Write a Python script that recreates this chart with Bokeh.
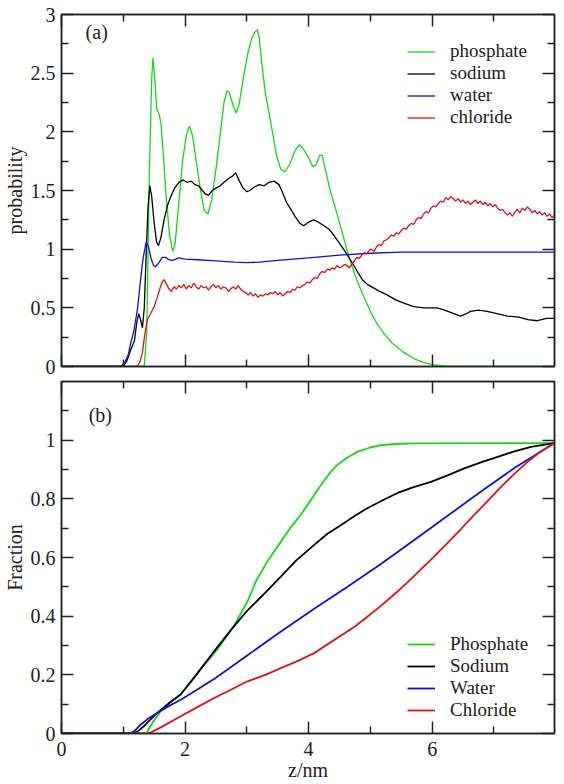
from bokeh.plotting import figure
from bokeh.models import (Range1d, LinearAxis, FixedTicker, CustomJSTickFormatter,
                          Legend, LegendItem, Label)
from bokeh.layouts import column
from bokeh.embed import file_html
from bokeh.resources import INLINE

# ---------------- data: panel (a) probability ----------------
z_phos = [0, 1.34, 1.38, 1.42, 1.46, 1.48, 1.51, 1.54, 1.58, 1.61, 1.65, 1.70, 1.75, 1.80, 1.84,
          1.90, 1.96, 2.02, 2.07, 2.12, 2.18, 2.25, 2.31, 2.37, 2.43, 2.50, 2.57, 2.63, 2.68, 2.72,
          2.78, 2.83, 2.88, 2.95, 3.02, 3.08, 3.13, 3.17, 3.20, 3.25, 3.30, 3.36, 3.42, 3.48, 3.55,
          3.62, 3.70, 3.78, 3.85, 3.92, 4.00, 4.07, 4.12, 4.18, 4.22, 4.27, 4.35, 4.45, 4.55, 4.65,
          4.75, 4.87, 5.00, 5.10, 5.22, 5.35, 5.54, 5.70, 5.85, 6.00, 6.20, 6.40, 7.98]
p_phos = [0, 0, 0.3, 1.6, 2.45, 2.63, 2.45, 2.2, 2.15, 2.07, 1.8, 1.4, 1.12, 0.98, 1.05,
          1.4, 1.75, 1.97, 2.05, 1.97, 1.75, 1.5, 1.33, 1.30, 1.42, 1.68, 1.98, 2.25, 2.35, 2.33,
          2.22, 2.16, 2.25, 2.48, 2.68, 2.80, 2.85, 2.87, 2.80, 2.55, 2.33, 2.16, 1.98, 1.80, 1.68,
          1.66, 1.73, 1.84, 1.89, 1.85, 1.78, 1.70, 1.72, 1.80, 1.80, 1.68, 1.50, 1.32, 1.13, 0.94,
          0.78, 0.62, 0.47, 0.37, 0.28, 0.20, 0.12, 0.07, 0.035, 0.015, 0.005, 0, 0]

z_sod = [0, 1.00, 1.06, 1.12, 1.18, 1.22, 1.25, 1.28, 1.31, 1.34, 1.37, 1.40, 1.43, 1.46, 1.50,
         1.54, 1.57, 1.61, 1.66, 1.72, 1.77, 1.83, 1.90, 1.97, 2.03, 2.10, 2.16, 2.22, 2.28, 2.33,
         2.38, 2.44, 2.50, 2.57, 2.63, 2.70, 2.76, 2.82, 2.88, 2.94, 3.00, 3.05, 3.12, 3.20, 3.28,
         3.36, 3.44, 3.52, 3.58, 3.64, 3.70, 3.78, 3.86, 3.92, 4.00, 4.08, 4.16, 4.25, 4.33, 4.42,
         4.50, 4.58, 4.65, 4.71, 4.80, 4.87, 4.95, 5.05, 5.15, 5.27, 5.40, 5.54, 5.70, 5.87, 6.08,
         6.20, 6.35, 6.46, 6.55, 6.62, 6.75, 6.89, 7.05, 7.22, 7.40, 7.55, 7.70, 7.85, 7.98]
p_sod = [0, 0, 0.05, 0.14, 0.22, 0.38, 0.45, 0.40, 0.33, 0.50, 0.95, 1.35, 1.54, 1.45, 1.22,
         1.06, 1.03, 1.10, 1.25, 1.38, 1.45, 1.52, 1.57, 1.59, 1.57, 1.58, 1.55, 1.54, 1.50, 1.47,
         1.46, 1.50, 1.52, 1.54, 1.57, 1.60, 1.62, 1.65, 1.58, 1.52, 1.49, 1.50, 1.53, 1.55, 1.54,
         1.57, 1.58, 1.55, 1.48, 1.40, 1.35, 1.28, 1.22, 1.20, 1.23, 1.25, 1.23, 1.20, 1.17, 1.11,
         1.05, 0.99, 0.93, 0.88, 0.80, 0.74, 0.70, 0.67, 0.64, 0.61, 0.57, 0.54, 0.51, 0.50, 0.50,
         0.48, 0.45, 0.43, 0.45, 0.47, 0.48, 0.47, 0.45, 0.43, 0.42, 0.40, 0.39, 0.41, 0.41]

z_wat = [0, 0.96, 1.02, 1.08, 1.12, 1.17, 1.23, 1.28, 1.32, 1.37, 1.41, 1.45, 1.49, 1.52, 1.57,
         1.63, 1.68, 1.74, 1.80, 1.90, 2.00, 2.20, 2.50, 2.80, 3.00, 3.20, 3.50, 4.00, 4.50, 5.00,
         5.50, 6.00, 6.50, 7.00, 7.98]
p_wat = [0, 0, 0.03, 0.10, 0.20, 0.30, 0.49, 0.74, 0.92, 1.06, 1.02, 0.92, 0.86, 0.85, 0.88,
         0.93, 0.93, 0.91, 0.905, 0.925, 0.915, 0.91, 0.90, 0.89, 0.885, 0.89, 0.905, 0.925, 0.95,
         0.965, 0.975, 0.975, 0.975, 0.975, 0.975]

z_chl = [0, 1.22, 1.27, 1.31, 1.35, 1.39, 1.44, 1.50, 1.55, 1.59, 1.63, 1.66, 1.70, 1.74, 1.78,
         1.82, 1.86, 1.90, 1.94, 1.98, 2.02, 2.06, 2.10, 2.14, 2.18, 2.22, 2.26, 2.30, 2.34, 2.38,
         2.42, 2.46, 2.50, 2.54, 2.58, 2.62, 2.66, 2.70, 2.74, 2.78, 2.82, 2.86, 2.90, 2.94, 2.98,
         3.02, 3.06, 3.10, 3.14, 3.18, 3.22, 3.26, 3.30, 3.34, 3.38, 3.42, 3.46, 3.50, 3.54, 3.58,
         3.62, 3.66, 3.70, 3.74, 3.78, 3.82, 3.86, 3.90, 3.94, 3.98, 4.02, 4.06, 4.10, 4.14, 4.18,
         4.22, 4.26, 4.30, 4.34, 4.38, 4.42, 4.46, 4.50, 4.54, 4.58, 4.62, 4.66, 4.70, 4.74, 4.78,
         4.82, 4.86, 4.90, 4.94, 4.98, 5.02, 5.06, 5.10, 5.14, 5.18, 5.22, 5.26, 5.30, 5.34, 5.38,
         5.42, 5.46, 5.50, 5.54, 5.58, 5.62, 5.66, 5.70, 5.74, 5.78, 5.82, 5.86, 5.90, 5.94, 5.98,
         6.02, 6.06, 6.10, 6.14, 6.18, 6.22, 6.26, 6.30, 6.34, 6.38, 6.42, 6.46, 6.50, 6.54, 6.58,
         6.62, 6.66, 6.70, 6.74, 6.78, 6.82, 6.86, 6.90, 6.94, 6.98, 7.02, 7.06, 7.10, 7.14, 7.18,
         7.22, 7.26, 7.30, 7.34, 7.38, 7.42, 7.46, 7.50, 7.54, 7.58, 7.62, 7.66, 7.70, 7.74, 7.78,
         7.82, 7.86, 7.90, 7.94, 7.98]
p_chl = [0, 0, 0.04, 0.12, 0.28, 0.40, 0.45, 0.51, 0.59, 0.66, 0.72, 0.74, 0.70, 0.66, 0.64,
         0.68, 0.66, 0.69, 0.67, 0.70, 0.66, 0.69, 0.67, 0.71, 0.68, 0.66, 0.69, 0.67, 0.68, 0.65,
         0.68, 0.70, 0.67, 0.69, 0.66, 0.68, 0.67, 0.64, 0.66, 0.68, 0.66, 0.69, 0.66, 0.64, 0.63,
         0.61, 0.63, 0.60, 0.62, 0.59, 0.61, 0.60, 0.62, 0.61, 0.63, 0.62, 0.64, 0.61, 0.63, 0.60,
         0.62, 0.64, 0.63, 0.66, 0.65, 0.68, 0.67, 0.69, 0.70, 0.72, 0.71, 0.74, 0.76, 0.75, 0.79,
         0.81, 0.80, 0.83, 0.82, 0.84, 0.83, 0.86, 0.84, 0.85, 0.87, 0.86, 0.84, 0.87, 0.90, 0.93,
         0.92, 0.95, 0.97, 0.96, 0.99, 1.00, 0.98, 1.02, 1.04, 1.03, 1.07, 1.08, 1.10, 1.12, 1.11,
         1.14, 1.13, 1.16, 1.18, 1.17, 1.20, 1.22, 1.21, 1.25, 1.27, 1.26, 1.30, 1.32, 1.31, 1.35,
         1.37, 1.36, 1.39, 1.41, 1.40, 1.44, 1.42, 1.45, 1.43, 1.41, 1.43, 1.40, 1.42, 1.39, 1.41,
         1.38, 1.40, 1.42, 1.39, 1.41, 1.38, 1.40, 1.37, 1.39, 1.36, 1.38, 1.35, 1.33, 1.34, 1.31,
         1.29, 1.31, 1.28, 1.32, 1.34, 1.31, 1.35, 1.33, 1.36, 1.34, 1.31, 1.33, 1.30, 1.32, 1.29,
         1.31, 1.28, 1.30, 1.27, 1.29]

# ---------------- data: panel (b) cumulative fraction ----------------
zf_phos = [0, 1.38, 1.41, 1.50, 1.60, 1.70, 1.77, 1.85, 1.93, 2.05, 2.25, 2.40, 2.57, 2.80, 3.01,
           3.15, 3.33, 3.55, 3.70, 3.87, 4.05, 4.20, 4.35, 4.46, 4.62, 4.79, 5.00, 5.17, 5.40, 5.71,
           7.98]
f_phos = [0, 0, 0.015, 0.045, 0.075, 0.095, 0.11, 0.12, 0.135, 0.165, 0.22, 0.255, 0.30, 0.37, 0.45,
          0.52, 0.586, 0.654, 0.70, 0.745, 0.80, 0.847, 0.89, 0.915, 0.94, 0.96, 0.975, 0.983, 0.987,
          0.989, 0.99]

zf_sod = [0, 1.17, 1.25, 1.36, 1.45, 1.55, 1.75, 1.93, 2.20, 2.47, 2.75, 3.01, 3.30, 3.55, 3.80,
          4.09, 4.30, 4.52, 4.75, 4.95, 5.20, 5.44, 5.70, 5.98, 6.25, 6.52, 6.80, 7.06, 7.33, 7.60,
          7.98]
f_sod = [0, 0, 0.01, 0.03, 0.05, 0.07, 0.105, 0.133, 0.205, 0.28, 0.355, 0.42, 0.48, 0.535, 0.59,
         0.643, 0.68, 0.71, 0.742, 0.768, 0.795, 0.82, 0.84, 0.858, 0.88, 0.904, 0.925, 0.943, 0.962,
         0.977, 0.99]

zf_wat = [0, 1.12, 1.20, 1.28, 1.40, 1.55, 1.75, 1.93, 2.20, 2.50, 3.00, 3.50, 4.09, 4.63, 5.17,
          5.71, 6.25, 6.79, 7.33, 7.98]
f_wat = [0, 0, 0.012, 0.03, 0.05, 0.07, 0.095, 0.115, 0.15, 0.19, 0.265, 0.34, 0.425, 0.50, 0.578,
         0.66, 0.742, 0.825, 0.905, 0.99]

zf_chl = [0, 1.41, 1.60, 1.93, 2.20, 2.47, 2.75, 3.01, 3.30, 3.55, 3.80, 4.09, 4.30, 4.52, 4.75,
          4.95, 5.17, 5.38, 5.60, 5.81, 6.03, 6.25, 6.47, 6.68, 6.90, 7.11, 7.33, 7.54, 7.75, 7.98]
f_chl = [0, 0, 0.02, 0.059, 0.09, 0.121, 0.15, 0.178, 0.20, 0.223, 0.245, 0.274, 0.303, 0.333, 0.365,
         0.398, 0.435, 0.473, 0.515, 0.558, 0.603, 0.65, 0.698, 0.745, 0.793, 0.84, 0.885, 0.925,
         0.96, 0.99]

names_a = ["phosphate", "sodium", "water", "chloride"]
names_b = ["Phosphate", "Sodium", "Water", "Chloride"]
colors = ["#16d816", "#000000", "#1010d8", "#dc1414"]

x_major = [0, 2, 4, 6]
x_minor = [1, 3, 5, 7]
x_labels = ["0", "2", "4", "6"]
ya_major = [0, 0.5, 1, 1.5, 2, 2.5, 3]
ya_minor = [0.25, 0.75, 1.25, 1.75, 2.25, 2.75]
ya_labels = ["0", "0.5", "1", "1.5", "2", "2.5", "3"]
yb_major = [0, 0.2, 0.4, 0.6, 0.8, 1.0]
yb_minor = [0.1, 0.3, 0.5, 0.7, 0.9, 1.1]
yb_labels = ["0", "0.2", "0.4", "0.6", "0.8", "1"]

FONT = "Liberation Serif"
FS = "20px"
blank = CustomJSTickFormatter(code="return ''")


def style_axis(ax, show_labels):
    ax.axis_line_width = 1.5
    ax.axis_line_color = "#222222"
    ax.major_tick_line_color = "#222222"
    ax.minor_tick_line_color = "#222222"
    ax.major_tick_line_width = 1.5
    ax.minor_tick_line_width = 1.5
    ax.major_tick_in = 12
    ax.major_tick_out = 0
    ax.minor_tick_in = 7
    ax.minor_tick_out = 0
    ax.major_label_text_font = FONT
    ax.major_label_text_font_size = FS
    ax.major_label_text_color = "#222222"
    ax.axis_label_text_font = FONT
    ax.axis_label_text_font_size = FS
    ax.axis_label_text_font_style = "normal"
    ax.axis_label_text_color = "#222222"
    if not show_labels:
        ax.formatter = blank
        ax.major_label_standoff = 0


def make_panel(yr, ymaj, ymin, ylabs, ylabel, show_x, min_top, min_bottom, fh):
    p = figure(frame_width=493, frame_height=fh, x_range=Range1d(0, 7.98), y_range=yr,
               output_backend="svg", toolbar_location=None,
               min_border_left=53, min_border_right=4, min_border_top=min_top,
               min_border_bottom=min_bottom, x_axis_location=None, y_axis_location=None)
    p.grid.visible = False
    p.outline_line_color = "#222222"
    p.outline_line_width = 1.5
    xt = FixedTicker(ticks=x_major, minor_ticks=x_minor)
    yt = FixedTicker(ticks=ymaj, minor_ticks=ymin)
    xb = LinearAxis(ticker=xt)
    style_axis(xb, show_x)
    if show_x:
        xb.major_label_overrides = dict(zip(x_major, x_labels))
        xb.axis_label = "z/nm"
        xb.major_label_standoff = 8
        xb.axis_label_standoff = 0
    p.add_layout(xb, "below")
    xa = LinearAxis(ticker=xt)
    style_axis(xa, False)
    p.add_layout(xa, "above")
    yl = LinearAxis(ticker=yt, axis_label=ylabel)
    style_axis(yl, True)
    yl.major_label_overrides = dict(zip(ymaj, ylabs))
    yl.major_label_standoff = 6
    yl.axis_label_standoff = 2
    p.add_layout(yl, "left")
    yr_ax = LinearAxis(ticker=yt)
    style_axis(yr_ax, False)
    p.add_layout(yr_ax, "right")
    return p


FH = 352
p1 = make_panel(Range1d(0, 3), ya_major, ya_minor, ya_labels, "probability", False, 14, 12, FH)
p2 = make_panel(Range1d(0, 1.2), yb_major, yb_minor, yb_labels, "Fraction", True, 3, 0, FH)

items_a = []
for (zz, yy), c, n in zip([(z_phos, p_phos), (z_sod, p_sod), (z_wat, p_wat), (z_chl, p_chl)], colors, names_a):
    r = p1.line(zz, yy, line_color=c, line_width=1.3)
    items_a.append(LegendItem(label=n, renderers=[r]))

items_b = []
for (zz, yy), c, n in zip([(zf_phos, f_phos), (zf_sod, f_sod), (zf_wat, f_wat), (zf_chl, f_chl)], colors, names_b):
    r = p2.line(zz, yy, line_color=c, line_width=1.8)
    items_b.append(LegendItem(label=n, renderers=[r]))


def make_legend(items, loc, rh):
    lg = Legend(items=items, location=loc, border_line_color=None, background_fill_alpha=0,
                padding=0, spacing=0, margin=0, glyph_width=28, glyph_height=rh, label_height=rh,
                label_standoff=15, label_text_font=FONT, label_text_font_size="19px",
                label_text_color="#222222", label_text_line_height=1.0)
    return lg


p1.add_layout(make_legend(items_a, (346, FH - 30 - 84), 21))
p2.add_layout(make_legend(items_b, (346, 12), 22))

p1.add_layout(Label(x=0.39, y=2.85, text="(a)", text_font=FONT, text_font_size=FS,
                    text_baseline="middle", text_align="left", text_color="#222222"))
p2.add_layout(Label(x=0.44, y=1.085, text="(b)", text_font=FONT, text_font_size=FS,
                    text_baseline="middle", text_align="left", text_color="#222222"))

layout = column(p1, p2, spacing=0)
open("out.html", "w").write(file_html(layout, INLINE))
